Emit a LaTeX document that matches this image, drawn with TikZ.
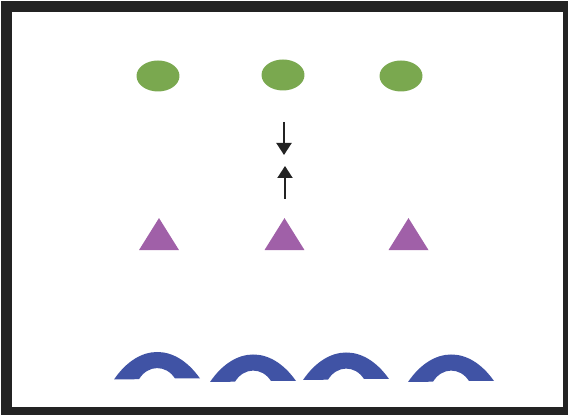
\documentclass[tikz,border=0pt]{standalone}
\usepackage{tikz}
\usetikzlibrary{shapes.geometric, arrows.meta, positioning}
\usepackage{xcolor}
\definecolor{framegray}{HTML}{232323}
\definecolor{leafgreen}{HTML}{7AA84F}
\definecolor{conepurple}{HTML}{A060A8}
\definecolor{archblue}{HTML}{4053A5}

\begin{document}
\begin{tikzpicture}[
    x=0.02cm, y=0.02cm,
    blob/.style={ellipse, fill=leafgreen, minimum width=0.86cm, minimum height=0.62cm, inner sep=0pt},
    cone/.style={isosceles triangle, isosceles triangle stretches, shape border rotate=90,
      fill=conepurple, minimum width=0.8cm, minimum height=0.64cm, inner sep=0pt},
    push/.style={draw=framegray, line width=0.04cm, -{Triangle[width=3mm, length=2.4mm]}},
    arch/.style={fill=archblue}
]
\useasboundingbox (0,0) rectangle (568,415);
\draw[framegray, line width=0.22cm] (6.5,2.5) rectangle (568.5,408.5);

% top row
\node[blob] (blobA) at (158,339) {};
\node[blob] (blobB) at (283,340) {};
\node[blob] (blobC) at (401,339) {};

% arrows in the middle
\coordinate (downFrom) at (284,293);
\coordinate (downTo) at (284,260);
\coordinate (upFrom) at (285,216);
\coordinate (upTo) at (285,249);
\draw[push] (downFrom) -- (downTo);
\draw[push] (upFrom) -- (upTo);

% triangles
\node[cone] (coneA) at (159,176) {};
\node[cone] (coneB) at (284.5,176) {};
\node[cone] (coneC) at (408.5,176) {};

% arches along the bottom
\fill[arch, shift={(157,36)}] (-43,-0.5) .. controls (-18,36) and (18,36) .. (43,0.5)
  -- (18,0.5) .. controls (9,14.5) and (-9,14.5) .. (-18,-0.2) -- cycle;
\fill[arch, shift={(253,33.5)}] (-43,-0.5) .. controls (-18,36) and (18,36) .. (43,0.5)
  -- (18,0.5) .. controls (9,14.5) and (-9,14.5) .. (-18,-0.2) -- cycle;
\fill[arch, shift={(346,35.5)}] (-43,-0.5) .. controls (-18,36) and (18,36) .. (43,0.5)
  -- (18,0.5) .. controls (9,14.5) and (-9,14.5) .. (-18,-0.2) -- cycle;
\fill[arch, shift={(451,33.5)}] (-43,-0.5) .. controls (-18,36) and (18,36) .. (43,0.5)
  -- (18,0.5) .. controls (9,14.5) and (-9,14.5) .. (-18,-0.2) -- cycle;
\end{tikzpicture}
\end{document}
